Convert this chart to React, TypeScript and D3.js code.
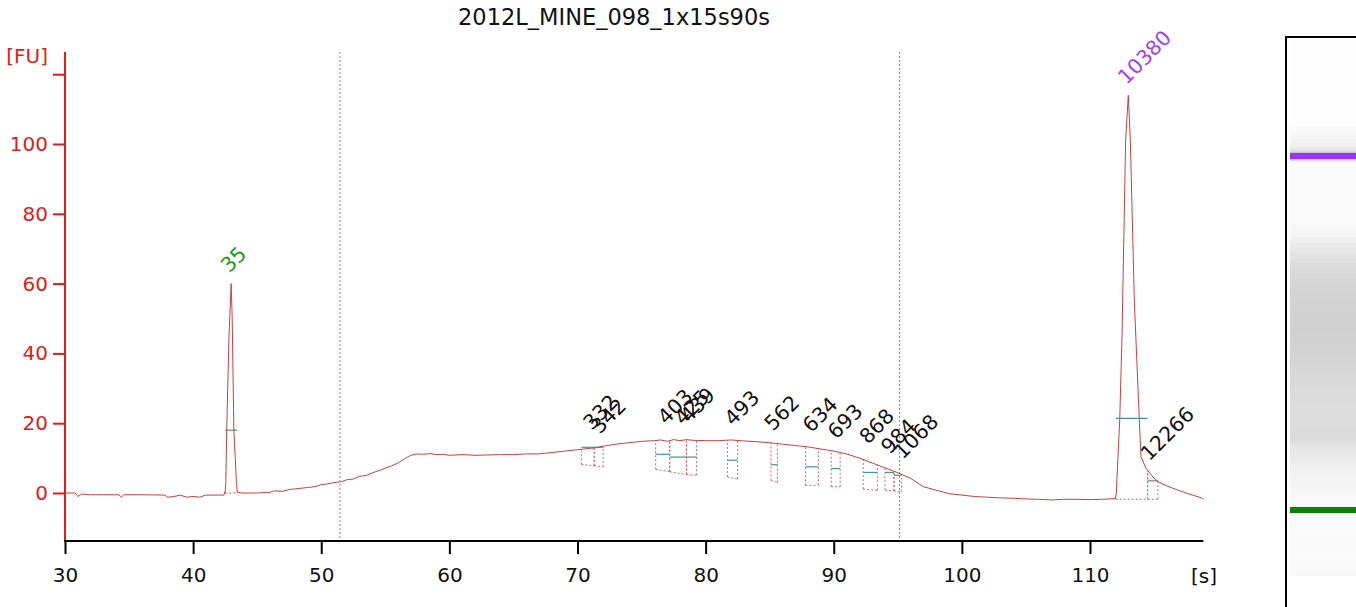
import React, { useEffect, useRef } from 'react';
import * as d3 from 'd3';

const chartTitle = '2012L_MINE_098_1x15s90s';

// electropherogram trace: time [s] / fluorescence [FU]
const traceTime = [
  30.0, 30.8, 31.0, 31.3, 32.0, 33.0, 34.2, 34.4, 34.6, 36.0, 37.8, 38.0, 38.5, 39.0, 39.5, 40.0, 40.5, 41.0, 42.0, 42.4,
  42.5, 42.55, 42.62, 42.8, 42.97, 43.05, 43.18, 43.38, 43.45, 43.8,
  45.0, 46.0, 46.3, 47.0, 47.5, 48.0, 48.5, 49.0, 49.5, 50.0, 50.5, 51.0, 51.5, 52.0, 52.5, 53.0, 53.5, 54.0, 54.5,
  55.0, 55.5, 56.0, 56.5, 57.0, 57.5, 58.0, 58.5, 59.0, 59.5, 60.0, 61.0, 62.0, 63.0, 64.0, 65.0, 66.0, 67.0, 68.0,
  69.0, 70.0, 70.5, 71.0, 71.5, 72.0, 73.0, 74.0, 75.0, 76.0, 76.5, 77.0, 77.5, 78.0, 78.5, 79.0, 80.0, 81.0, 82.0,
  83.0, 84.0, 85.0, 86.0, 87.0, 88.0, 89.0, 90.0, 91.0, 92.0, 93.0, 94.0, 95.0, 96.0, 97.0, 98.0, 99.0, 100.0,
  101.0, 102.0, 103.0, 104.0, 105.0, 106.0, 107.0, 108.0, 109.0, 110.0, 111.0, 111.98,
  112.05, 112.32, 112.5, 112.78, 112.99, 113.15, 113.46, 113.85, 113.98, 114.37, 114.6, 115.15, 115.7, 116.43, 117.5, 118.53, 118.8,
];
const traceFU = [
  0.0, 0.0, -1.0, -0.3, -0.5, -0.5, -0.5, -1.2, -0.5, -0.5, -0.6, -1.2, -1.0, -0.6, -1.2, -1.0, -1.2, -0.6, -0.6, -0.6,
  0.5, 3.0, 18.0, 45.0, 60.0, 50.0, 18.0, 3.0, 0.3, 0.0,
  0.0, 0.2, 0.6, 0.5, 1.0, 1.2, 1.4, 1.6, 1.8, 2.4, 2.6, 3.0, 3.2, 3.8, 4.0, 4.8, 5.0, 5.8, 6.4,
  7.1, 7.8, 8.6, 9.8, 10.8, 11.2, 11.1, 11.3, 11.0, 11.1, 10.8, 11.0, 10.8, 10.9, 11.0, 11.0, 11.2, 11.2, 11.6,
  12.0, 12.4, 12.6, 12.8, 13.0, 13.4, 14.0, 14.4, 14.8, 15.0, 15.2, 14.8, 15.3, 15.0, 15.3, 15.1, 15.0, 15.0, 15.2,
  14.9, 14.7, 14.4, 14.0, 13.6, 13.2, 12.6, 12.0, 11.2, 10.0, 8.6, 7.2, 5.8, 4.2, 1.8, 0.8, -0.2, -0.6,
  -1.0, -1.2, -1.4, -1.5, -1.7, -1.8, -2.0, -1.8, -1.8, -1.9, -1.8, -1.6,
  0.0, 21.0, 45.0, 101.0, 114.0, 101.0, 55.0, 21.0, 10.4, 7.1, 6.0, 3.6, 2.5, 1.4, 0.0, -1.2, -1.6,
];

const xTicks = [30, 40, 50, 60, 70, 80, 90, 100, 110];
const yTicks = [0, 20, 40, 60, 80, 100, 120];
const yTickLabels = ['0', '20', '40', '60', '80', '100', ''];

// called peaks (size in bp)
const peakLabels = ['35', '332', '342', '403', '425', '439', '493', '562', '634', '693', '868', '984', '1068', '10380', '12266'];
const peakKinds = ['lower', 'sample', 'sample', 'sample', 'sample', 'sample', 'sample', 'sample', 'sample', 'sample', 'sample', 'sample', 'sample', 'upper', 'sample'];
const peakTimes = [42.97, 71.26, 71.89, 77.09, 78.39, 78.83, 82.29, 85.41, 88.4, 90.35, 92.82, 94.51, 95.55, 113.0, 114.79];
const peakHeights = [60, 14.9, 13.8, 16.5, 16.3, 16.9, 16.1, 14.7, 14.2, 12.3, 10.9, 8.0, 6.6, 114, 6.1];
const peakStarts = [42.5, 70.3, 71.3, 76.1, 77.2, 78.5, 81.7, 85.1, 87.8, 89.8, 92.3, 94.0, 94.7, 112.0, 114.5];
const peakEnds = [43.45, 71.3, 72.0, 77.2, 78.5, 79.3, 82.5, 85.6, 88.8, 90.5, 93.4, 94.7, 95.3, 114.5, 115.3];
const baseStarts = [0.0, 8.2, 7.8, 6.8, 6.1, 5.3, 4.6, 3.6, 2.2, 1.8, 1.1, 0.8, 0.6, -1.8, -1.8];
const baseEnds = [0.0, 7.8, 7.5, 6.1, 5.3, 5.1, 4.0, 3.0, 2.2, 1.8, 0.8, 0.6, 0.4, -1.8, -1.8];
const halfMarks = [18.0, 13.1, 13.1, 11.1, 10.3, 10.3, 9.4, 8.1, 7.5, 7.0, 5.9, 5.9, 5.1, 21.4, 3.5];

// smear region limits [s]
const regionBounds = [51.45, 95.13];
// lower / upper marker migration times, used to place the gel lane
const markerTimes = [42.97, 113.0];

const FONT = '"DejaVu Sans", Verdana, sans-serif';
const RED = '#e31a1a';
const TRACE = '#cc4040';

const App = () => {
  const svgRef = useRef(null);

  useEffect(() => {
    const svg = d3.select(svgRef.current);
    svg.selectAll('*').remove();

    const x = d3.scaleLinear().domain([30, 110]).range([65, 1090]);
    const y = d3.scaleLinear().domain([0, 100]).range([493, 144]);
    const xMax = 118.85;
    const yTop = 52;
    const yBottom = 541;

    const bis = d3.bisector((d: number) => d).left;
    const traceAt = (t: number) => {
      const i = Math.max(1, Math.min(traceTime.length - 1, bis(traceTime, t)));
      const t0 = traceTime[i - 1], t1 = traceTime[i];
      const k = (t - t0) / (t1 - t0);
      return traceFU[i - 1] + k * (traceFU[i] - traceFU[i - 1]);
    };

    // title
    svg.append('text')
      .attr('x', 614).attr('y', 25)
      .attr('text-anchor', 'middle')
      .attr('font-family', FONT).attr('font-size', 22.5)
      .attr('fill', '#111')
      .text(chartTitle);

    // smear region lines
    regionBounds.forEach((t) => {
      svg.append('line')
        .attr('x1', x(t)).attr('x2', x(t))
        .attr('y1', yTop).attr('y2', yBottom)
        .attr('stroke', '#8a8aa8').attr('stroke-width', 1)
        .attr('stroke-dasharray', '2,2');
    });

    // Y axis
    const yAxis = d3.axisLeft(y)
      .tickValues(yTicks)
      .tickSize(12)
      .tickPadding(5)
      .tickFormat((d, i) => yTickLabels[i]);
    const gy = svg.append('g').attr('transform', 'translate(65,0)').call(yAxis);
    gy.select('.domain').remove();
    gy.selectAll('line').attr('stroke', RED).attr('stroke-width', 2);
    gy.selectAll('text').attr('fill', RED).attr('font-family', FONT).attr('font-size', 20);
    svg.append('line')
      .attr('x1', 65).attr('x2', 65).attr('y1', yTop).attr('y2', yBottom)
      .attr('stroke', RED).attr('stroke-width', 2);
    svg.append('text')
      .attr('x', 48).attr('y', 63)
      .attr('text-anchor', 'end')
      .attr('font-family', FONT).attr('font-size', 20)
      .attr('fill', RED)
      .text('[FU]');

    // X axis
    const xAxis = d3.axisBottom(x)
      .tickValues(xTicks)
      .tickSize(13)
      .tickPadding(14);
    const gx = svg.append('g').attr('transform', `translate(0,${yBottom})`).call(xAxis);
    gx.select('.domain').remove();
    gx.selectAll('line').attr('stroke', '#000').attr('stroke-width', 2);
    gx.selectAll('text').attr('fill', '#111').attr('font-family', FONT).attr('font-size', 20);
    svg.append('line')
      .attr('x1', 64).attr('x2', x(xMax)).attr('y1', yBottom).attr('y2', yBottom)
      .attr('stroke', '#000').attr('stroke-width', 2);
    svg.append('text')
      .attr('x', 1204).attr('y', 583)
      .attr('text-anchor', 'middle')
      .attr('font-family', FONT).attr('font-size', 20)
      .attr('fill', '#111')
      .text('[s]');

    // peak boxes (dotted) and half-height marks
    const pk = svg.append('g');
    peakLabels.forEach((_, i) => {
      const xs = x(peakStarts[i]);
      const xe = x(peakEnds[i]);
      const dotted = (x1, y1, x2, y2) => pk.append('line')
        .attr('x1', x1).attr('y1', y1).attr('x2', x2).attr('y2', y2)
        .attr('stroke', '#e06060').attr('stroke-width', 1)
        .attr('stroke-dasharray', '2,2');
      dotted(xs, y(baseStarts[i]), xe, y(baseEnds[i]));
      dotted(xs, y(baseStarts[i]), xs, y(traceAt(peakStarts[i])));
      dotted(xe, y(baseEnds[i]), xe, y(traceAt(peakEnds[i])));
      pk.append('line')
        .attr('x1', xs).attr('x2', xe)
        .attr('y1', y(halfMarks[i])).attr('y2', y(halfMarks[i]))
        .attr('stroke', '#3f9a88').attr('stroke-width', 1.2);
    });

    // trace
    const line = d3.line<number>()
      .x((d, i) => x(traceTime[i]))
      .y((d) => y(d))
      .curve(d3.curveLinear);
    svg.append('path')
      .datum(traceFU)
      .attr('fill', 'none')
      .attr('stroke', TRACE)
      .attr('stroke-width', 1)
      .attr('d', line);

    // peak labels
    const labelColor = { lower: '#1e9a1e', upper: '#a040f5', sample: '#111' };
    peakLabels.forEach((lab, i) => {
      const px = x(peakTimes[i]) - 2;
      const py = y(peakHeights[i]) - 10;
      svg.append('text')
        .attr('transform', `translate(${px},${py}) rotate(-45)`)
        .attr('font-family', FONT).attr('font-size', 20.5)
        .attr('fill', labelColor[peakKinds[i]])
        .text(lab);
    });

    // gel lane
    const gel = d3.scaleLinear().domain(markerTimes).range([510, 156]);
    const laneX = 1290;
    const laneW = 70;
    const gray = (v: number) => {
      const g = Math.round(Math.max(196, Math.min(250, 248 - 2.6 * v)));
      return `rgb(${g},${g},${g})`;
    };
    const lane = svg.append('g');
    lane.append('rect')
      .attr('x', 1286).attr('y', 37).attr('width', 100).attr('height', 600)
      .attr('fill', '#fff');
    lane.append('rect')
      .attr('x', laneX).attr('y', 40).attr('width', laneW)
      .attr('height', gel(traceTime[traceTime.length - 1]) - 40)
      .attr('fill', '#fefefe');
    for (let i = 0; i < traceTime.length - 1; i++) {
      const y0 = gel(traceTime[i]);
      const y1 = gel(traceTime[i + 1]);
      lane.append('rect')
        .attr('x', laneX).attr('y', y1).attr('width', laneW)
        .attr('height', y0 - y1 + 0.6)
        .attr('fill', gray((traceFU[i] + traceFU[i + 1]) / 2));
    }
    const bandColor = ['#0a820a', '#9b35f5'];
    markerTimes.forEach((t, i) => {
      lane.append('rect')
        .attr('x', laneX).attr('y', gel(t) - 3).attr('width', laneW).attr('height', 6)
        .attr('fill', bandColor[i]);
    });
    lane.append('rect')
      .attr('x', 1286).attr('y', 37).attr('width', 100).attr('height', 600)
      .attr('fill', 'none').attr('stroke', '#000').attr('stroke-width', 2);
  }, []);

  return (
    <svg
      ref={svgRef}
      width={1356}
      height={607}
      style={{ position: 'absolute', left: 0, top: 0, background: '#fff' }}
    />
  );
};

export default App;
